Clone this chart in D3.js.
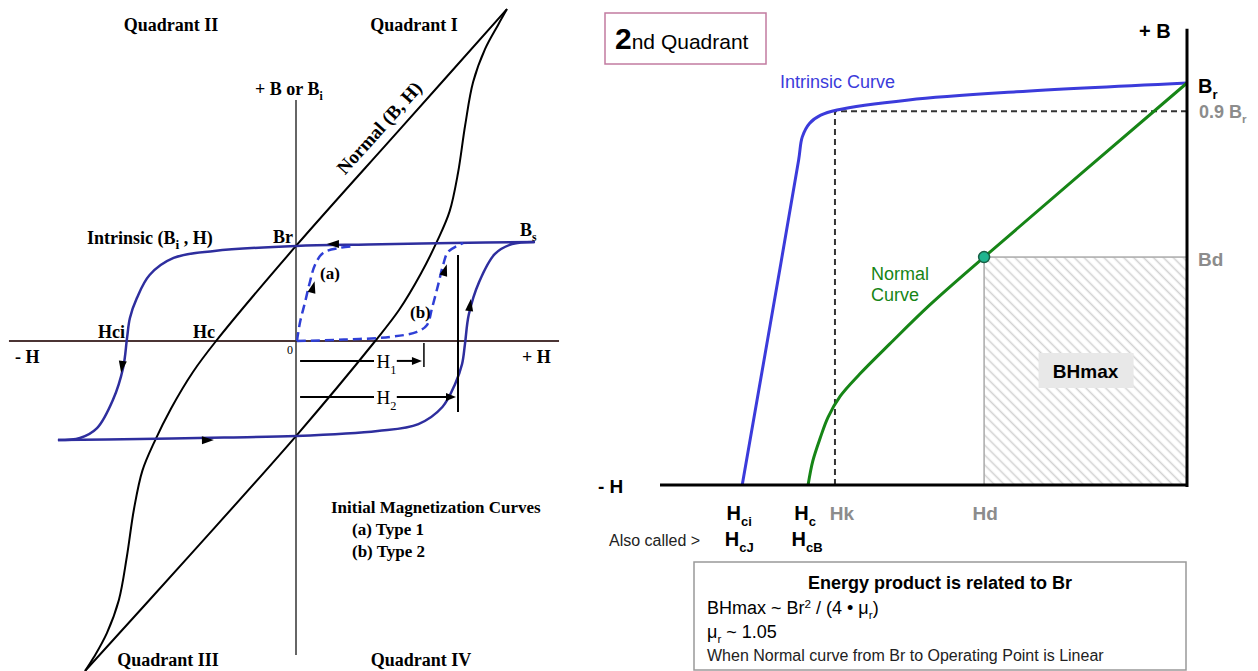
<!DOCTYPE html>
<html>
<head>
<meta charset="utf-8">
<script src="https://cdn.jsdelivr.net/npm/d3@7"></script>
<style>
  body { margin: 0; background: #fff; }
  svg { display: block; }
</style>
</head>
<body>
<svg id="chart" width="1258" height="671"></svg>
<script>
// ---- left panel: full hysteresis loop, H / B in loop units, origin at 0,0
const intrinsicDown = [[9.96,4.13],[6.5,4.08],[3,4.02],[0,3.96],[-3.4,3.75],[-5.1,3.46],[-6.1,2.75],
  [-6.63,1.79],[-6.92,0.96],[-7.04,0.13],[-7.2,-1.1],[-7.63,-2.46],[-8.29,-3.63],[-9.0,-4.04],[-9.92,-4.13]];
const intrinsicUp = [[-9.92,-4.13],[-6.5,-4.08],[-3,-4.02],[0,-3.96],[3.4,-3.75],[5.1,-3.46],[6.1,-2.75],
  [6.63,-1.79],[6.92,-0.96],[7.04,-0.13],[7.2,1.1],[7.63,2.46],[8.29,3.63],[9.0,4.04],[9.92,4.13]];
const normalDown = [[8.79,13.83],[4.4,8.9],[0,3.96],[-3.33,0],[-4.3,-1.3],[-5.2,-2.8],[-5.9,-4.2],
  [-6.4,-5.4],[-6.75,-7.0],[-7.05,-9.0],[-7.38,-10.79],[-7.88,-12.17],[-8.42,-13.17],[-8.79,-13.75]];
const normalUp = [[-8.79,-13.75],[-4.4,-8.9],[0,-3.96],[3.3,0],[4.3,1.3],[5.2,2.8],[5.9,4.2],
  [6.4,5.4],[6.75,7.0],[7.05,9.0],[7.38,10.79],[7.88,12.17],[8.42,13.17],[8.79,13.83]];
const initialA = [[0.04,0],[0.17,0.79],[0.38,1.63],[0.58,2.46],[0.79,3.17],[1.13,3.67],[1.83,3.88],[2.46,3.96]];
const initialB = [[0.04,0],[2,0.06],[3.92,0.17],[5.04,0.38],[5.46,0.67],[5.67,1.38],[5.92,2.33],
  [6.13,3.17],[6.33,3.71],[6.71,3.96],[6.96,4.08]];
// arrow heads: H, B, direction (deg, screen)
const loopArrows = [[1.54,4.04,180],[0.71,2.25,-75],[6.21,2.96,-73],[7.25,1.5,-82],[-7.25,-1.08,98],[-3.67,-4.13,-1]];
const h1 = 5.33, h2 = 6.75;
const h1Row = -0.83, h2Row = -2.33;

// ---- right panel: 2nd quadrant, H as share of axis, B as share of Br
const intrinsic2 = [[0,1],[-0.324,0.978],[-0.528,0.958],[-0.664,0.933],[-0.695,0.92],[-0.716,0.9],
  [-0.73,0.866],[-0.737,0.808],[-0.791,0.398],[-0.844,0]];
const normal2 = [[0,1],[-0.385,0.567],[-0.488,0.448],[-0.564,0.351],[-0.621,0.276],[-0.658,0.221],
  [-0.681,0.169],[-0.696,0.117],[-0.71,0.06],[-0.719,0]];
const operatingPoint = [-0.385, 0.567];
const hk = -0.668, kneeB = 0.93;
const hci = -0.844, hc = -0.719;

const svg = d3.select("#chart");
const serif = '"Liberation Serif", "Times New Roman", serif';
const sans = '"Liberation Sans", Arial, sans-serif';

// text with sub / sup parts: parts = [[text, ""|"sub"|"sup"], ...]
function label(g, x, y, parts, opt) {
  const size = opt.size || 18;
  const t = g.append("text")
    .attr("x", x).attr("y", y)
    .attr("font-family", opt.family || sans)
    .attr("font-size", size)
    .attr("font-weight", opt.weight || "normal")
    .attr("fill", opt.fill || "#000")
    .attr("text-anchor", opt.anchor || "start");
  if (opt.rotate) t.attr("transform", "rotate(" + opt.rotate + "," + x + "," + y + ")");
  let shift = 0;
  parts.forEach(p => {
    const target = p[1] == "sub" ? size * 0.3 : p[1] == "sup" ? -size * 0.35 : 0;
    t.append("tspan")
      .attr("dy", target - shift)
      .attr("font-size", p[1] ? size * (opt.subScale || 0.65) : size)
      .text(p[0]);
    shift = target;
  });
  return t;
}

// ================= left panel =================
const xL = d3.scaleLinear().domain([-10, 10]).range([56, 536]);
const yL = d3.scaleLinear().domain([-10, 10]).range([581, 101]);
const left = svg.append("g");
const lineL = d3.line().x(d => xL(d[0])).y(d => yL(d[1])).curve(d3.curveCatmullRom.alpha(0.5));

left.append("line")
  .attr("x1", xL(-11.96)).attr("x2", xL(10.96)).attr("y1", yL(0)).attr("y2", yL(0))
  .attr("stroke", "#4b3434").attr("stroke-width", 2);
left.append("line")
  .attr("x1", xL(0)).attr("x2", xL(0)).attr("y1", yL(10.04)).attr("y2", yL(-13.08))
  .attr("stroke", "#333").attr("stroke-width", 1.5);

[normalDown, normalUp].forEach(d => {
  left.append("path").attr("d", lineL(d))
    .attr("fill", "none").attr("stroke", "#000").attr("stroke-width", 2);
});
[intrinsicDown, intrinsicUp].forEach(d => {
  left.append("path").attr("d", lineL(d))
    .attr("fill", "none").attr("stroke", "#2e2e9e").attr("stroke-width", 2.5);
});
[initialA, initialB].forEach(d => {
  left.append("path").attr("d", lineL(d))
    .attr("fill", "none").attr("stroke", "#2f3fd6").attr("stroke-width", 2.5)
    .attr("stroke-dasharray", "9,5");
});

left.selectAll(".arrow")
  .data(loopArrows)
  .enter().append("path")
  .attr("class", "arrow")
  .attr("d", "M6,0 L-6,-4 L-6,4 Z")
  .attr("fill", "#000")
  .attr("transform", d => "translate(" + xL(d[0]) + "," + yL(d[1]) + ") rotate(" + d[2] + ")");

// H1 / H2 markers
left.append("line").attr("x1", xL(h2)).attr("x2", xL(h2)).attr("y1", yL(3.58)).attr("y2", yL(-2.96))
  .attr("stroke", "#000").attr("stroke-width", 2);
left.append("line").attr("x1", xL(h1)).attr("x2", xL(h1)).attr("y1", yL(-0.08)).attr("y2", yL(-1.08))
  .attr("stroke", "#000").attr("stroke-width", 1.5);
[[h1, h1Row, "1"], [h2, h2Row, "2"]].forEach(r => {
  const y = yL(r[1]);
  left.append("line").attr("x1", xL(0.17)).attr("x2", xL(3.25)).attr("y1", y).attr("y2", y)
    .attr("stroke", "#000").attr("stroke-width", 2);
  left.append("line").attr("x1", xL(4.2)).attr("x2", xL(r[0]) - 6).attr("y1", y).attr("y2", y)
    .attr("stroke", "#000").attr("stroke-width", 2);
  left.append("path").attr("d", "M0,0 L-10,-4 L-10,4 Z").attr("fill", "#000")
    .attr("transform", "translate(" + (xL(r[0]) - 2) + "," + y + ")");
  label(left, xL(3.35), y + 7, [["H", ""], [r[2], "sub"]], { family: serif, size: 19 });
});

const sb = { family: serif, weight: "bold", size: 18 };
label(left, 171, 31, [["Quadrant  II", ""]], Object.assign({}, sb, { anchor: "middle" }));
label(left, 414, 31, [["Quadrant  I", ""]], Object.assign({}, sb, { anchor: "middle" }));
label(left, 168, 666, [["Quadrant  III", ""]], Object.assign({}, sb, { anchor: "middle" }));
label(left, 421, 666, [["Quadrant  IV", ""]], Object.assign({}, sb, { anchor: "middle" }));
label(left, 255, 95, [["+ B or B", ""], ["i", "sub"]], sb);
label(left, 87, 244, [["Intrinsic (B", ""], ["i", "sub"], [" , H)", ""]], Object.assign({}, sb, { subScale: 0.75 }));
label(left, 273, 243, [["Br", ""]], sb);
label(left, 520, 236, [["B", ""], ["s", "sub"]], sb);
label(left, 98, 338, [["Hci", ""]], sb);
label(left, 193, 338, [["Hc", ""]], sb);
label(left, 15, 363, [["- H", ""]], sb);
label(left, 522, 363, [["+ H", ""]], sb);
label(left, 287, 354, [["0", ""]], { family: serif, size: 12 });
label(left, 320, 279, [["(a)", ""]], { family: serif, weight: "bold", size: 17 });
label(left, 410, 318, [["(b)", ""]], { family: serif, weight: "bold", size: 17 });
label(left, xL(4.0) - 8, yL(8.45) - 6, [["Normal (B, H)", ""]], Object.assign({}, sb, { size: 19, anchor: "middle", rotate: -48 }));
label(left, 331, 513, [["Initial Magnetization Curves", ""]], Object.assign({}, sb, { size: 17 }));
label(left, 352, 535, [["(a) Type 1", ""]], Object.assign({}, sb, { size: 17 }));
label(left, 352, 557, [["(b) Type 2", ""]], Object.assign({}, sb, { size: 17 }));

// ================= right panel =================
const xR = d3.scaleLinear().domain([-1, 0]).range([660, 1187]);
const yR = d3.scaleLinear().domain([0, 1]).range([485, 83]);
const right = svg.append("g");
const lineR = d3.line().x(d => xR(d[0])).y(d => yR(d[1])).curve(d3.curveCatmullRom.alpha(0.5));

const defs = svg.append("defs");
defs.append("pattern")
  .attr("id", "hatch").attr("patternUnits", "userSpaceOnUse")
  .attr("width", 7).attr("height", 7).attr("patternTransform", "rotate(-45)")
  .append("line").attr("x1", 3.5).attr("x2", 3.5).attr("y1", 0).attr("y2", 7)
  .attr("stroke", "#d2d2d2").attr("stroke-width", 1.6);

// BHmax area
right.append("rect")
  .attr("x", xR(operatingPoint[0])).attr("y", yR(operatingPoint[1]))
  .attr("width", xR(0) - xR(operatingPoint[0])).attr("height", yR(0) - yR(operatingPoint[1]))
  .attr("fill", "url(#hatch)").attr("stroke", "#aaa").attr("stroke-width", 1.5);
const bhx = (xR(operatingPoint[0]) + xR(0)) / 2, bhy = (yR(operatingPoint[1]) + yR(0)) / 2;
right.append("rect").attr("x", bhx - 47).attr("y", bhy - 18).attr("width", 95).attr("height", 35)
  .attr("fill", "#e8e8e8");
label(right, bhx, bhy + 7, [["BHmax", ""]], { weight: "bold", size: 19, anchor: "middle" });

// knee guide lines
right.append("path")
  .attr("d", "M" + xR(0) + "," + yR(kneeB) + "H" + xR(hk) + "V" + yR(0))
  .attr("fill", "none").attr("stroke", "#333").attr("stroke-width", 2).attr("stroke-dasharray", "6,4");

right.append("path").attr("d", lineR(intrinsic2))
  .attr("fill", "none").attr("stroke", "#3b3bdb").attr("stroke-width", 3);
right.append("path").attr("d", lineR(normal2))
  .attr("fill", "none").attr("stroke", "#168516").attr("stroke-width", 3);
right.append("circle")
  .attr("cx", xR(operatingPoint[0])).attr("cy", yR(operatingPoint[1])).attr("r", 5.5)
  .attr("fill", "#1fb58f").attr("stroke", "#175f45").attr("stroke-width", 1.5);

// axes
right.append("line").attr("x1", xR(0)).attr("x2", xR(0)).attr("y1", yR(1.135)).attr("y2", yR(0) + 2)
  .attr("stroke", "#000").attr("stroke-width", 3);
right.append("line").attr("x1", xR(-1)).attr("x2", xR(0) + 1).attr("y1", yR(0)).attr("y2", yR(0))
  .attr("stroke", "#000").attr("stroke-width", 3);

// title box
right.append("rect").attr("x", 605).attr("y", 13).attr("width", 161).attr("height", 51)
  .attr("fill", "none").attr("stroke", "#c27ba0").attr("stroke-width", 1.5);
const tt = right.append("text").attr("x", 615).attr("y", 49).attr("font-family", sans);
tt.append("tspan").attr("font-size", 30).attr("font-weight", "bold").text("2");
tt.append("tspan").attr("font-size", 21).text("nd Quadrant");

const gray = "#8c8c8c";
label(right, 1139, 38, [["+ B", ""]], { weight: "bold", size: 20 });
label(right, 1198, 93, [["B", ""], ["r", "sub"]], { weight: "bold", size: 20 });
label(right, 1199, 118, [["0.9 B", ""], ["r", "sub"]], { weight: "bold", size: 18, fill: gray });
label(right, 1198, 266, [["Bd", ""]], { weight: "bold", size: 19, fill: gray });
label(right, 780, 88, [["Intrinsic Curve", ""]], { size: 18, fill: "#3b3bdb" });
label(right, 871, 280, [["Normal", ""]], { size: 18, fill: "#168516" });
label(right, 871, 301, [["Curve", ""]], { size: 18, fill: "#168516" });
label(right, 598, 493, [["- H", ""]], { weight: "bold", size: 19 });
label(right, xR(hci) - 3, 520, [["H", ""], ["ci", "sub"]], { weight: "bold", size: 20, anchor: "middle" });
label(right, xR(hc) - 3, 520, [["H", ""], ["c", "sub"]], { weight: "bold", size: 20, anchor: "middle" });
label(right, xR(hk) + 7, 520, [["Hk", ""]], { weight: "bold", size: 19, fill: gray, anchor: "middle" });
label(right, xR(operatingPoint[0]) + 1, 520, [["Hd", ""]], { weight: "bold", size: 19, fill: gray, anchor: "middle" });
label(right, 609, 546, [["Also called >", ""]], { size: 16, fill: "#222" });
label(right, xR(hci) - 3, 546, [["H", ""], ["cJ", "sub"]], { weight: "bold", size: 20, anchor: "middle" });
label(right, xR(hc) - 1, 546, [["H", ""], ["cB", "sub"]], { weight: "bold", size: 20, anchor: "middle" });

// energy product note
right.append("rect").attr("x", 694).attr("y", 562).attr("width", 492).attr("height", 108)
  .attr("fill", "#fff").attr("stroke", "#999").attr("stroke-width", 1.5);
label(right, 940, 589, [["Energy product is related to Br", ""]], { weight: "bold", size: 18, anchor: "middle" });
label(right, 707, 614, [["BHmax ~ Br", ""], ["2", "sup"], [" / (4 \u2022 \u03bc", ""], ["r", "sub"], [")", ""]], { size: 18 });
label(right, 707, 638, [["\u03bc", ""], ["r", "sub"], [" ~ 1.05", ""]], { size: 18 });
label(right, 707, 661, [["When Normal curve from Br to Operating Point is Linear", ""]], { size: 16, fill: "#222" });
</script>
</body>
</html>
